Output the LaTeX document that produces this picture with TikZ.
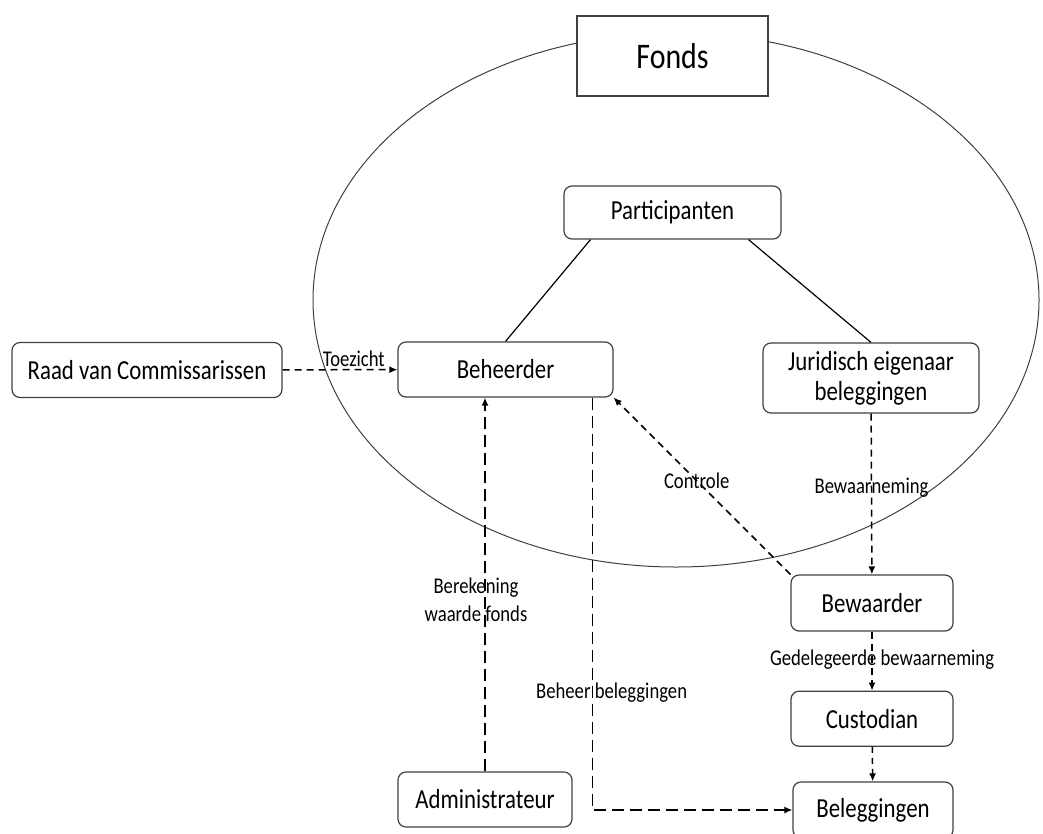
\documentclass[tikz,border=0pt]{standalone}
\usepackage{fontspec}
\setmainfont{Carlito}[FakeStretch=0.83]
\usepackage{xcolor}
\usepackage{tikz}
\usetikzlibrary{positioning}
\usetikzlibrary{calc}
\usetikzlibrary{arrows.meta}
\definecolor{randgrijs}{HTML}{404040}
\newcommand{\blokfont}{\fontsize{27.5}{30}\selectfont}
\newcommand{\labelfont}{\fontsize{22.5}{28}\selectfont}
\tikzset{%
  blok/.style = {rectangle,draw=randgrijs,rounded corners=8pt,line width=1.2pt,
        inner sep=0pt,align=center,font=\blokfont},
  lbl/.style = {inner sep=2pt,align=center,font=\labelfont},
  kortpijl/.style = {-{Latex[length=8pt,width=7pt]},line width=1.5pt,
        dash pattern=on 7pt off 5pt},
  langpijl/.style = {-{Latex[length=8pt,width=7pt]},line width=1.5pt,
        dash pattern=on 12pt off 6pt}
}
\begin{document}
\begin{tikzpicture}[x=1pt,y=-1pt]
                            \useasboundingbox (0,0) rectangle (1043,833);
                            \draw[randgrijs,line width=1pt] (676,300) ellipse [x radius=363pt, y radius=267pt];
                            \node[rectangle,draw=randgrijs,fill=white,line width=1.2pt,minimum width=191pt,
                                  minimum height=80pt,font=\fontsize{36}{40}\selectfont] (fonds) at (672.5,56) {Fonds};
                            \node[blok,minimum width=217pt,minimum height=53pt] (part) at (672.5,212.5) {Participanten};
                            \node[blok,minimum width=215pt,minimum height=55pt] (beh) at (505.5,369.5) {Beheerder};
                            \node[blok,minimum width=216pt,minimum height=70pt] (jur) at (871,378) {Juridisch eigenaar\\beleggingen};
                            \node[blok,minimum width=270pt,minimum height=55pt] (raad) at (147,370) {Raad van Commissarissen};
                            \node[blok,minimum width=162pt,minimum height=56pt] (bew) at (872,603) {Bewaarder};
                            \node[blok,minimum width=162pt,minimum height=55pt] (cust) [below=59pt of bew] {Custodian};
                            \node[blok,minimum width=160pt,minimum height=56pt] (bel) at (873,810) {Beleggingen};
                            \node[blok,minimum width=174pt,minimum height=55pt] (adm) at (485,799.5) {Administrateur};
                            \draw[line width=1.2pt] ($(part.south)+(-82,0)$) -- (beh.north);
                            \draw[line width=1.2pt] ($(part.south)+(76,0)$) -- (jur.north);
                            \path[kortpijl] (raad) edge node[lbl,above,pos=0.62] {Toezicht} (beh)
                                      (bew.north west) edge node[lbl,pos=0.53] {Controle} (beh.south east)
                                      (jur) edge node[lbl,pos=0.46] {Bewaarneming} (bew)
                                      (bew) edge node[lbl,pos=0.47,xshift=10pt] {Gedelegeerde bewaarneming} (cust)
                                      (cust) edge[dash pattern=on 6pt off 5pt] (bel);
                            \draw[langpijl] (adm.north) -- (adm.north |- beh.south)
                                      node[lbl,pos=0.46,xshift=-9pt] {Berekening\\waarde fonds};
                            \draw[langpijl] ($(beh.south east)+(-21,0)$) |- (bel.west)
                                      node[lbl,pos=0.358,xshift=19pt] {Beheer beleggingen};
                        \end{tikzpicture}
\end{document}
